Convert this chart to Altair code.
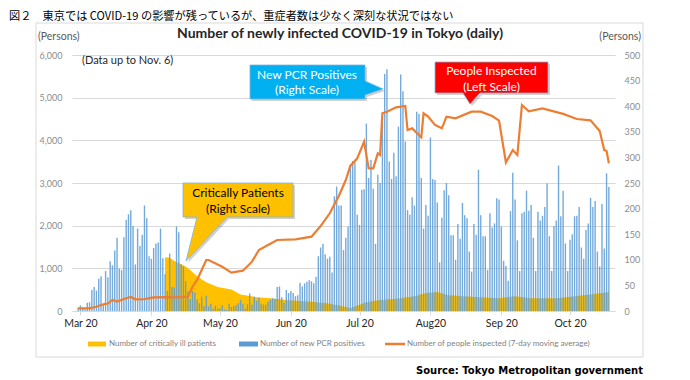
import json
import altair as alt
import pandas as pd

# ---------------- data ----------------
# New PCR positives per day (right scale), Mar 19 - Nov 6, 2020
pcr_mar = [7, 11, 7, 3, 16, 17, 41, 47, 40, 63, 68, 13, 78]
pcr_apr = [66, 97, 89, 118, 143, 83, 80, 144, 178, 189, 197, 166, 91, 161, 127,
           149, 206, 181, 107, 102, 123, 132, 134, 161, 103, 72, 39, 112, 47, 46]
pcr_may = [165, 154, 91, 87, 58, 38, 23, 39, 36, 22, 15, 28, 10, 30, 9, 14, 5, 10,
           5, 5, 11, 3, 2, 14, 8, 10, 11, 15, 22, 14, 5]
pcr_jun = [13, 34, 12, 28, 20, 26, 14, 13, 12, 18, 22, 25, 24, 47, 48, 27, 16, 41,
           35, 39, 35, 29, 31, 55, 48, 54, 57, 60, 58, 54]
pcr_jul = [67, 107, 124, 131, 111, 102, 106, 75, 224, 243, 206, 206, 119, 143, 165,
           286, 293, 290, 188, 168, 237, 238, 366, 260, 295, 239, 131, 266, 250, 367, 463]
pcr_aug = [472, 292, 258, 309, 263, 360, 462, 429, 331, 197, 188, 222, 206, 389, 385,
           260, 161, 207, 186, 339, 258, 256, 212, 95, 182, 236, 250, 226, 148, 148, 100]
pcr_sep = [170, 141, 211, 187, 181, 116, 77, 170, 149, 276, 187, 146, 146, 80, 191,
           163, 171, 220, 218, 165, 98, 88, 59, 195, 270, 218, 138, 78, 191, 194]
pcr_oct = [235, 196, 207, 143, 78, 194, 177, 186, 203, 249, 146, 78, 166, 177, 284,
           185, 235, 132, 78, 139, 150, 185, 186, 203, 124, 102, 158, 171, 221, 203, 215]
pcr_nov = [116, 87, 209, 122, 269, 242]
pcr_first_day = "2020-03-19"

# Critically ill patients (right scale)
sev_dates = ["2020-04-26", "2020-04-28", "2020-05-01", "2020-05-03", "2020-05-06",
             "2020-05-10", "2020-05-14", "2020-05-19", "2020-05-25", "2020-05-29",
             "2020-06-05", "2020-06-11", "2020-06-19", "2020-06-29", "2020-07-06",
             "2020-07-12", "2020-07-16", "2020-07-20", "2020-07-23", "2020-07-28",
             "2020-08-07", "2020-08-14", "2020-08-18", "2020-08-23", "2020-08-28",
             "2020-09-07", "2020-09-19", "2020-09-26", "2020-10-03", "2020-10-14",
             "2020-10-26", "2020-11-03", "2020-11-06"]
sev_vals = [105, 104, 95, 92, 84, 68, 56, 47, 42, 32, 27, 25, 21, 18, 15, 10, 6, 12,
            17, 21, 25, 30, 35, 37, 31, 28, 25, 29, 25, 25, 31, 35, 37]

# People inspected, 7-day moving average (left scale)
insp_dates = ["2020-03-19", "2020-03-24", "2020-03-27", "2020-03-30", "2020-04-01",
              "2020-04-03", "2020-04-05", "2020-04-08", "2020-04-11", "2020-04-13",
              "2020-04-17", "2020-04-21", "2020-04-26", "2020-04-30", "2020-05-06",
              "2020-05-08", "2020-05-10", "2020-05-12", "2020-05-14", "2020-05-15",
              "2020-05-21", "2020-05-25", "2020-05-30", "2020-06-03", "2020-06-06",
              "2020-06-10", "2020-06-14", "2020-06-22", "2020-06-29", "2020-07-03",
              "2020-07-07", "2020-07-11", "2020-07-14", "2020-07-16", "2020-07-19",
              "2020-07-22", "2020-07-24", "2020-07-26", "2020-07-28", "2020-07-29",
              "2020-07-30", "2020-08-01", "2020-08-05", "2020-08-09", "2020-08-10",
              "2020-08-12", "2020-08-16", "2020-08-17", "2020-08-19", "2020-08-22",
              "2020-08-25", "2020-08-27", "2020-08-31", "2020-09-07", "2020-09-11",
              "2020-09-16", "2020-09-19", "2020-09-22", "2020-09-25", "2020-09-27",
              "2020-09-29", "2020-10-02", "2020-10-08", "2020-10-17", "2020-10-23",
              "2020-10-29", "2020-11-02", "2020-11-04", "2020-11-05", "2020-11-06"]
insp_vals = [63, 63, 100, 157, 175, 258, 220, 280, 330, 274,
             280, 321, 325, 321, 335, 570, 727, 960, 1195, 1195,
             1038, 898, 945, 1156, 1430, 1547, 1664, 1680, 1742, 1990,
             2290, 2700, 3070, 3400, 3578, 3969, 3344, 3344, 3695, 3656,
             4633, 4672, 4774, 4805, 4242, 4281, 4070, 4633, 4555, 4360,
             4281, 4555, 4516, 4672, 4672, 4570, 4460, 3480, 3773, 3656,
             4828, 4680, 4750, 4620, 4500, 4470, 4220, 3770, 3750, 3460]

tick_months = [3, 4, 5, 6, 7, 8, 9, 10]
tick_labels = ["Mar 20", "Apr 20", "May 20", "Jun 20", "Jul 20", "Aug20", "Sep 20", "Oct 20"]
left_ticks = [0, 1000, 2000, 3000, 4000, 5000, 6000]
right_ticks = [0, 50, 100, 150, 200, 250, 300, 350, 400, 450, 500]

legend_labels = ["Number of critically ill patients",
                 "Number of new PCR positives",
                 "Number of people inspected (7-day moving average)"]

# ---------------- tables ----------------
pcr = pcr_mar + pcr_apr + pcr_may + pcr_jun + pcr_jul + pcr_aug + pcr_sep + pcr_oct + pcr_nov
pcr_dates = pd.date_range(pcr_first_day, periods=len(pcr), freq="D").strftime("%Y-%m-%d").tolist()
pcr_df = pd.DataFrame({"date": pcr_dates, "v": pcr})
sev_df = pd.DataFrame({"date": sev_dates, "v": sev_vals})
insp_df = pd.DataFrame({"date": insp_dates, "insp": insp_vals})
one = pd.DataFrame({"k": [0]})

# ---------------- styling ----------------
FONT = "Lato"
BLUE = "#5b9bd5"
YELLOW = "#ffc000"
ORANGE = "#ed7d31"
GRID = "#d9d9d9"
OX, OY = 72, 55          # page position of plot origin
W, H = 543, 256

label_by_month = [""] * 12
for m, lab in zip(tick_months, tick_labels):
    label_by_month[m - 1] = lab
label_expr = json.dumps(label_by_month) + "[utcmonth(datum.value)]"

x_enc = alt.X(
    "date:T",
    scale=alt.Scale(type="utc", domain=[
        alt.DateTime(year=2020, month=3, date=18, hours=12, utc=True),
        alt.DateTime(year=2020, month=11, date=6, hours=12, utc=True)]),
    axis=alt.Axis(values=[alt.DateTime(year=2020, month=m, date=20, utc=True) for m in tick_months],
                  labelExpr=label_expr, title=None, grid=False, domainColor=GRID,
                  tickColor=GRID, tickSize=4, labelPadding=3, labelFont=FONT,
                  labelFontSize=10.5, labelColor="#262626", labelOverlap=False,
                  labelFlush=False))

y_right = alt.Y("v:Q", scale=alt.Scale(domain=[0, 500], nice=False),
                axis=alt.Axis(orient="right", values=right_ticks, title=None, domain=False,
                              ticks=False, grid=False, labelPadding=9, labelFont=FONT,
                              labelFontSize=9, labelColor="#8c8c8c"))
y_left = alt.Y("insp:Q", scale=alt.Scale(domain=[0, 6000], nice=False),
               axis=alt.Axis(orient="left", values=left_ticks, format=",.0f", title=None,
                             domain=False, ticks=False, grid=True, gridColor=GRID,
                             labelPadding=10, labelFont=FONT, labelFontSize=9,
                             labelColor="#8c8c8c"))

area = alt.Chart(sev_df).mark_area(color=YELLOW, opacity=1).encode(x=x_enc, y=y_right)
bars = alt.Chart(pcr_df).mark_bar(color=BLUE, size=1.4, opacity=0.85).encode(x=x_enc, y=y_right)
line = alt.Chart(insp_df).mark_line(color=ORANGE, strokeWidth=2.2).encode(x=x_enc, y=y_left)
right_group = alt.layer(area, bars)


def text_layer(s, x, y, size, color, font=FONT, weight="normal", align="left"):
    return alt.Chart(one).mark_text(text=s, font=font, fontSize=size, fontWeight=weight,
                                    color=color, align=align, baseline="middle").encode(
        x=alt.value(x - OX), y=alt.value(y - OY))


def rect_layer(x1, y1, x2, y2, fill, fill_opacity=1.0, stroke="transparent", sw=0):
    return alt.Chart(one).mark_rect(fill=fill, fillOpacity=fill_opacity, stroke=stroke,
                                    strokeWidth=sw).encode(
        x=alt.value(x1 - OX), x2=alt.value(x2 - OX), y=alt.value(y1 - OY), y2=alt.value(y2 - OY))


def shape_layer(path, ax, ay, fill, stroke="transparent", sw=0, opacity=1.0):
    return alt.Chart(one).mark_point(shape=path, size=4, filled=True, fill=fill, stroke=stroke,
                                     strokeWidth=sw, opacity=opacity).encode(
        x=alt.value(ax - OX), y=alt.value(ay - OY))


def rule_layer(x1, x2, y, color, sw):
    return alt.Chart(one).mark_rule(color=color, strokeWidth=sw).encode(
        x=alt.value(x1 - OX), x2=alt.value(x2 - OX), y=alt.value(y - OY))


callout_stroke = "#7fb2dd"
p_cyan = "M0,0 L115,0 L115,16 L133,24 L115,30 L115,34 L0,34 Z"
p_red = "M0,0 L113,0 L113,31 L45,31 L35,42 L28,31 L0,31 Z"
p_yel = "M0,0 L110,0 L110,34 L44,34 L3,78 L14,34 L0,34 Z"

annots = [
    rect_layer(36, 23, 643, 357, "white", fill_opacity=0, stroke=GRID, sw=1),
    text_layer("図２　東京では COVID-19 の影響が残っているが、重症者数は少なく深刻な状況ではない",
               9, 17, 11.2, "#000000", font="Noto Sans CJK JP"),
    text_layer("Number of newly infected COVID-19 in Tokyo (daily)", 340, 34, 14,
               "#262626", weight="bold", align="center"),
    text_layer("(Persons)", 38, 37, 10.5, "#595959"),
    text_layer("(Persons)", 641, 37, 10.5, "#595959", align="right"),
    text_layer("(Data up to Nov. 6)", 82, 61, 11, "#262626"),
    # callouts
    shape_layer(p_cyan, 252, 67, "#000000", opacity=0.18),
    shape_layer(p_cyan, 250, 65, "#00b0f0", stroke=callout_stroke, sw=0.8),
    text_layer("New PCR Positives", 307, 74.5, 12, "white", align="center"),
    text_layer("(Right Scale)", 307, 90, 12, "white", align="center"),
    shape_layer(p_red, 437, 64, "#000000", opacity=0.18),
    shape_layer(p_red, 435, 62, "#ff0000", stroke=callout_stroke, sw=0.8),
    text_layer("People Inspected", 491.5, 71, 12, "white", align="center"),
    text_layer("(Left Scale)", 491.5, 86.5, 12, "white", align="center"),
    shape_layer(p_yel, 185, 185, "#000000", opacity=0.18),
    shape_layer(p_yel, 183, 183, YELLOW, stroke=callout_stroke, sw=0.8),
    text_layer("Critically Patients", 238, 193, 12, "#000000", align="center"),
    text_layer("(Right Scale)", 238, 209, 12, "#000000", align="center"),
    # legend
    rect_layer(88, 341.5, 106, 346.5, YELLOW),
    text_layer(legend_labels[0], 109, 344, 8, "#7f7f7f"),
    rect_layer(239, 341.5, 258, 346.5, BLUE),
    text_layer(legend_labels[1], 260, 344, 8, "#7f7f7f"),
    rule_layer(385, 405, 344, ORANGE, 2.5),
    text_layer(legend_labels[2], 407, 344, 8, "#7f7f7f"),
    # source
    text_layer("Source: Tokyo Metropolitan government", 643, 371, 10, "#000000",
               font="DejaVu Sans", weight="bold", align="right"),
]

chart = alt.layer(right_group, line, *annots).resolve_scale(y="independent").properties(
    width=W, height=H,
    autosize=alt.AutoSizeParams(type="none"),
    padding={"left": OX - 8, "top": OY - 8, "right": 60, "bottom": 68},
).configure_view(stroke="transparent")

chart.save("out.html", embed_options={"renderer": "svg", "actions": False})
